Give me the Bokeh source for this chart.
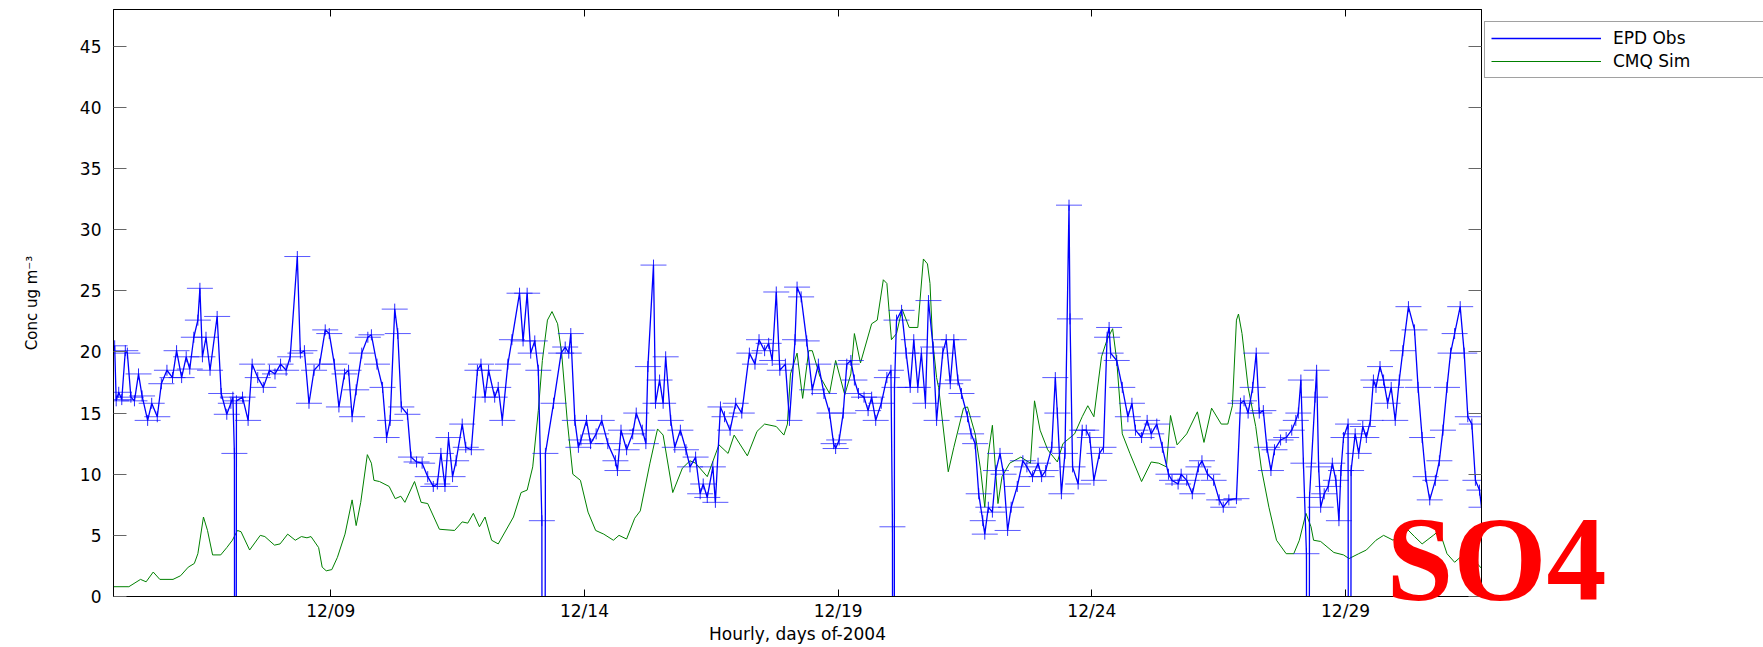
import math

from bokeh.plotting import figure
from bokeh.models import (ColumnDataSource, Range1d, FixedTicker, LinearAxis,
                          Legend, LegendItem, Label)
from bokeh.embed import file_html
from bokeh.resources import INLINE

# Flag used in the observation record for hours with no valid measurement
MISSING = -99.0

# Hourly SO4 observations (EPD), time as fractional day of December 2004
obs_day = [
    4.74, 4.77, 4.82, 4.88, 4.95, 4.99, 5.06, 5.13, 5.21, 5.28, 5.39, 5.47, 5.58, 5.66, 5.77, 5.88,
    5.96, 6.06, 6.15, 6.22, 6.30, 6.38, 6.42, 6.47, 6.54, 6.62, 6.76, 6.84, 6.95, 7.03, 7.07, 7.10,
    7.12, 7.14, 7.26, 7.37, 7.45, 7.56, 7.67, 7.79, 7.90, 8.01, 8.12, 8.20, 8.34, 8.40, 8.48, 8.57,
    8.67, 8.78, 8.89, 8.97, 9.07, 9.16, 9.27, 9.35, 9.42, 9.50, 9.61, 9.73, 9.80, 9.91, 10.02, 10.10,
    10.17, 10.26, 10.32, 10.39, 10.51, 10.58, 10.69, 10.80, 10.91, 11.02, 11.10, 11.17, 11.25, 11.32,
    11.40, 11.47, 11.59, 11.66, 11.77, 11.89, 11.96, 12.04, 12.11, 12.23, 12.30, 12.38, 12.49, 12.57,
    12.72, 12.79, 12.87, 12.94, 13.02, 13.09, 13.16, 13.19, 13.23, 13.39, 13.54, 13.62, 13.69, 13.73,
    13.81, 13.88, 13.93, 14.04, 14.12, 14.23, 14.34, 14.46, 14.61, 14.65, 14.72, 14.83, 14.95, 15.02,
    15.14, 15.21, 15.25, 15.36, 15.40, 15.48, 15.55, 15.60, 15.70, 15.78, 15.89, 16.00, 16.08, 16.19,
    16.28, 16.34, 16.42, 16.53, 16.58, 16.68, 16.76, 16.87, 16.98, 17.10, 17.25, 17.36, 17.44, 17.55,
    17.63, 17.70, 17.78, 17.85, 17.96, 18.04, 18.15, 18.19, 18.27, 18.38, 18.49, 18.61, 18.72, 18.83,
    18.91, 18.95, 19.02, 19.10, 19.17, 19.25, 19.32, 19.40, 19.51, 19.59, 19.66, 19.74, 19.85, 19.96,
    20.04, 20.07, 20.09, 20.11, 20.15, 20.25, 20.34, 20.42, 20.49, 20.57, 20.64, 20.72, 20.78, 20.87,
    20.94, 21.06, 21.13, 21.21, 21.28, 21.36, 21.43, 21.55, 21.62, 21.70, 21.77, 21.85, 21.89, 21.96,
    22.04, 22.11, 22.19, 22.26, 22.34, 22.41, 22.53, 22.64, 22.72, 22.83, 22.94, 23.01, 23.09, 23.21,
    23.28, 23.32, 23.40, 23.47, 23.55, 23.57, 23.62, 23.73, 23.81, 23.89, 23.96, 24.04, 24.15, 24.23,
    24.30, 24.34, 24.37, 24.49, 24.60, 24.71, 24.79, 24.86, 24.98, 25.09, 25.17, 25.28, 25.39, 25.51,
    25.58, 25.70, 25.76, 25.87, 25.98, 26.10, 26.17, 26.28, 26.40, 26.51, 26.59, 26.70, 26.85, 26.93,
    27.00, 27.08, 27.17, 27.24, 27.30, 27.38, 27.45, 27.53, 27.60, 27.72, 27.83, 27.94, 28.02, 28.07,
    28.12, 28.17, 28.23, 28.26, 28.29, 28.40, 28.43, 28.47, 28.51, 28.58, 28.66, 28.74, 28.81, 28.87,
    28.91, 28.96, 29.05, 29.08, 29.11, 29.19, 29.26, 29.34, 29.41, 29.49, 29.55, 29.60, 29.68, 29.75,
    29.83, 29.90, 29.98, 30.06, 30.13, 30.24, 30.36, 30.43, 30.51, 30.58, 30.66, 30.77, 30.85, 30.92,
    31.00, 31.07, 31.15, 31.26, 31.34, 31.41, 31.49, 31.56, 31.64, 31.68,
]
obs_conc = [
    20.5, 16.0, 16.7, 16.1, 20.1, 19.9, 16.3, 16.0, 18.2, 16.4, 14.4, 15.8, 14.7, 17.4, 18.5, 17.9,
    20.1, 17.9, 19.6, 18.6, 21.2, 22.6, 25.2, 19.6, 21.2, 18.5, 22.9, 16.6, 14.9, 15.8, 16.3, 11.7,
    MISSING, 16.0, 16.3, 14.4, 19.0, 17.9, 17.1, 18.5, 18.2, 19.0, 18.5, 19.6, 27.8, 19.9, 20.1, 15.8,
    18.5, 19.0, 21.8, 21.5, 19.0, 15.5, 18.2, 18.5, 14.7, 16.9, 19.9, 21.2, 21.4, 19.0, 17.1, 13.0,
    14.4, 23.5, 21.5, 15.5, 14.9, 11.4, 11.0, 10.9, 9.8, 9.0, 9.2, 11.7, 9.0, 13.0,
    9.8, 11.1, 14.1, 12.2, 12.0, 18.5, 19.0, 16.3, 18.5, 16.3, 17.1, 14.4, 19.0, 21.0,
    24.8, 20.9, 24.8, 19.9, 20.9, 18.5, 6.2, MISSING, 11.7, 15.8, 19.9, 20.4, 19.9, 21.5,
    14.4, 12.2, 12.8, 14.4, 12.5, 13.3, 14.4, 12.5, 11.1, 10.3, 13.6, 12.0, 13.3, 15.0,
    13.6, 12.5, 18.8, 27.1, 15.8, 17.7, 15.8, 19.6, 14.4, 12.2, 13.6, 12.0, 10.6, 11.4,
    8.4, 9.2, 8.1, 10.6, 7.7, 15.5, 14.7, 13.6, 15.8, 15.0, 19.9, 19.0, 21.0, 20.1,
    20.7, 19.3, 24.9, 18.5, 19.0, 14.4, 21.0, 25.3, 24.5, 20.9, 16.9, 19.0, 16.6, 15.0,
    12.5, 12.1, 12.8, 15.0, 19.0, 19.3, 17.7, 16.6, 16.3, 15.2, 16.3, 14.4, 15.8, 17.9,
    18.5, 5.7, MISSING, 17.1, 22.6, 23.4, 19.9, 17.1, 21.0, 17.1, 19.9, 15.8, 24.2, 20.4,
    14.4, 19.9, 21.0, 17.4, 21.0, 17.7, 16.6, 14.7, 13.3, 12.5, 8.4, 6.2, 5.1, 7.3,
    6.9, 10.3, 11.7, 10.0, 5.4, 7.3, 9.0, 11.1, 10.6, 9.8, 10.9, 9.8, 10.3, 12.2,
    17.9, 15.0, 8.4, 11.7, 32.0, 22.7, 10.6, 9.2, 13.6, 13.6, 13.0, 9.5, 11.7, 12.2,
    21.2, 22.0, 19.9, 19.3, 17.1, 14.7, 15.8, 13.6, 13.0, 14.4, 13.3, 14.1, 12.2, 10.0,
    9.5, 9.2, 10.0, 9.5, 8.4, 10.6, 11.1, 10.0, 9.5, 7.9, 7.3, 7.9, 8.0, 15.8,
    16.0, 15.0, 17.1, 19.9, 15.0, 15.2, 12.2, 10.3, 12.0, 12.8, 13.0, 13.6, 14.4, 15.0,
    17.7, 10.9, 3.5, MISSING, 8.1, 16.3, 18.5, 10.6, 7.3, 8.4, 9.0, 10.9, 9.5, 6.2,
    10.3, 13.0, 14.1, MISSING, 10.3, 13.3, 11.7, 13.9, 13.0, 14.4, 17.7, 17.1, 18.8, 17.7,
    15.8, 17.1, 14.4, 17.7, 20.1, 23.7, 21.8, 17.1, 13.0, 9.8, 7.9, 9.5, 11.1, 13.6,
    17.1, 19.9, 21.5, 23.7, 19.9, 14.7, 14.1, 9.5, 8.7, 7.3,
]

# Hourly CMAQ model output at the same site
sim_day = [
    4.72, 5.02, 5.25, 5.36, 5.50, 5.63, 5.89, 6.04, 6.19, 6.31, 6.38, 6.49, 6.57, 6.67, 6.83, 6.95,
    7.06, 7.16, 7.23, 7.40, 7.61, 7.70, 7.89, 8.00, 8.15, 8.30, 8.42, 8.53, 8.61, 8.76, 8.83, 8.91,
    9.02, 9.13, 9.28, 9.42, 9.50, 9.59, 9.72, 9.80, 9.85, 9.96, 10.15, 10.27, 10.38, 10.46, 10.65, 10.78,
    10.91, 11.14, 11.44, 11.59, 11.70, 11.81, 11.93, 12.04, 12.17, 12.30, 12.60, 12.75, 12.87, 12.98,
    13.09, 13.17, 13.27, 13.36, 13.47, 13.55, 13.66, 13.77, 13.92, 14.07, 14.22, 14.38, 14.57, 14.68,
    14.83, 14.99, 15.10, 15.29, 15.44, 15.55, 15.74, 15.93, 16.08, 16.19, 16.42, 16.65, 16.83, 16.95,
    17.21, 17.40, 17.55, 17.78, 17.93, 18.00, 18.06, 18.19, 18.30, 18.42, 18.49, 18.64, 18.83, 18.95,
    19.13, 19.25, 19.32, 19.44, 19.66, 19.77, 19.89, 19.96, 20.05, 20.15, 20.26, 20.40, 20.57, 20.68,
    20.76, 20.81, 20.86, 20.94, 20.98, 21.17, 21.28, 21.47, 21.55, 21.70, 21.81, 21.89, 21.96, 22.04,
    22.11, 22.15, 22.23, 22.38, 22.60, 22.79, 22.87, 22.98, 23.13, 23.32, 23.43, 23.66, 23.81, 23.92,
    24.04, 24.19, 24.30, 24.41, 24.49, 24.60, 24.75, 24.98, 25.17, 25.32, 25.47, 25.55, 25.68, 25.87,
    26.08, 26.21, 26.36, 26.55, 26.68, 26.77, 26.85, 26.89, 26.96, 27.08, 27.23, 27.34, 27.49, 27.64,
    27.83, 27.98, 28.09, 28.22, 28.32, 28.37, 28.51, 28.77, 28.96, 29.07, 29.26, 29.41, 29.60, 29.75,
    29.94, 30.17, 30.36, 30.51, 30.73, 30.85, 31.00, 31.15, 31.34, 31.53, 31.68,
]
sim_conc = [
    0.8, 0.8, 1.4, 1.2, 2.0, 1.4, 1.4, 1.7, 2.4, 2.7, 3.5, 6.5, 5.4, 3.4, 3.4, 4.0,
    4.6, 5.4, 5.3, 3.8, 5.0, 4.9, 4.2, 4.3, 5.1, 4.6, 4.9, 4.8, 4.9, 4.0, 2.4, 2.1,
    2.2, 3.2, 5.1, 7.9, 5.8, 7.7, 11.6, 10.9, 9.5, 9.4, 9.0, 8.0, 8.2, 7.7, 9.4, 7.7,
    7.6, 5.5, 5.4, 6.1, 6.0, 6.8, 5.7, 6.5, 4.6, 4.3, 6.5, 8.5, 8.7, 10.6,
    15.2, 19.3, 22.6, 23.3, 22.3, 19.9, 14.4, 10.0, 9.5, 6.9, 5.4, 5.1, 4.6, 5.0,
    4.7, 6.4, 7.0, 10.9, 13.7, 13.2, 8.5, 10.5, 11.1, 10.9, 9.8, 12.4, 11.7, 13.2,
    11.5, 13.5, 14.1, 13.9, 13.2, 14.1, 18.2, 19.9, 16.2, 20.1, 20.1, 18.0, 16.6, 19.3,
    16.5, 18.2, 21.5, 19.1, 22.3, 22.6, 25.9, 25.6, 21.0, 21.5, 23.5, 22.0, 22.0, 27.6,
    27.2, 25.6, 21.0, 17.9, 17.1, 10.2, 12.2, 15.4, 15.5, 13.3, 10.3, 7.3, 11.7, 14.0,
    9.8, 7.6, 9.8, 10.9, 11.4, 10.9, 16.0, 13.6, 12.0, 11.0, 12.5, 13.3, 14.7, 15.6,
    14.7, 19.6, 21.0, 21.9, 19.3, 13.3, 11.7, 9.4, 11.0, 10.9, 10.6, 14.8, 12.4, 13.3,
    15.1, 12.6, 15.4, 14.1, 14.1, 15.6, 22.6, 23.1, 21.5, 17.1, 13.9, 10.5, 7.3, 4.6,
    3.5, 3.5, 4.6, 6.8, 5.7, 4.6, 4.5, 3.6, 3.4, 3.1, 3.5, 3.8, 4.6, 5.0,
    4.6, 5.7, 4.9, 4.3, 5.0, 5.4, 3.5, 2.8, 3.5, 3.0, 2.3,
]

x_tick_days = [9, 14, 19, 24, 29]
x_tick_labels = ["12/09", "12/14", "12/19", "12/24", "12/29"]
y_ticks = [0, 5, 10, 15, 20, 25, 30, 35, 40, 45]
species = "SO4"

X_START, X_END = 4.717, 31.68
Y_MAX = 48
W, H = 1763, 647

FONT = "DejaVu Sans"
BLUE = "#0000ff"
GREEN = "#008000"

# ---------------------------------------------------------------- main chart
p = figure(width=W, height=H, output_backend="svg", toolbar_location=None,
           x_range=Range1d(X_START, X_END), y_range=Range1d(0, Y_MAX),
           min_border_left=113, min_border_right=282, min_border_top=9, min_border_bottom=51,
           background_fill_color="white", border_fill_color="white")
p.grid.visible = False
p.outline_line_color = "black"
p.outline_line_width = 1

xax = p.xaxis[0]
xax.ticker = FixedTicker(ticks=x_tick_days)
xax.major_label_overrides = {d: lab for d, lab in zip(x_tick_days, x_tick_labels)}
xax.axis_label = "Hourly, days of-2004"
yax = p.yaxis[0]
yax.ticker = FixedTicker(ticks=y_ticks)
yax.axis_label = "Conc ug m\u207b\u00b3"

for ax, tick_len, tick_col in ((xax, 7, "black"), (yax, 13, "#666666")):
    ax.axis_line_color = "black"
    ax.major_tick_in = tick_len
    ax.major_tick_out = 0
    ax.major_tick_line_color = tick_col
    ax.minor_tick_line_color = None
    ax.major_label_text_font = FONT
    ax.major_label_text_font_size = "17px"
    ax.major_label_text_color = "black"
    ax.axis_label_text_font = FONT
    ax.axis_label_text_font_style = "normal"
    ax.axis_label_text_color = "black"

xax.major_label_standoff = 4
xax.axis_label_standoff = 0
xax.axis_label_text_font_size = "17px"
yax.major_label_standoff = 12
yax.axis_label_standoff = 36
yax.axis_label_text_font_size = "15px"

# Mirrored tick marks on the top and right sides of the box (ticks only, no labels)
top_ax = LinearAxis(ticker=FixedTicker(ticks=x_tick_days), major_tick_in=7, major_tick_out=0,
                    minor_tick_line_color=None, major_label_text_font_size="1px",
                    major_label_text_color=None, major_label_standoff=0,
                    axis_line_color="black", major_tick_line_color="black")
right_ax = LinearAxis(ticker=FixedTicker(ticks=y_ticks), major_tick_in=13, major_tick_out=0,
                      minor_tick_line_color=None, major_label_text_font_size="1px",
                      major_label_text_color=None, major_label_standoff=0,
                      axis_line_color="black", major_tick_line_color="#666666")
p.add_layout(top_ax, "above")
p.add_layout(right_ax, "right")

obs_src = ColumnDataSource(data=dict(day=obs_day, conc=obs_conc))
sim_src = ColumnDataSource(data=dict(day=sim_day, conc=sim_conc))

line_style = dict(line_color=BLUE, line_width=1.3)
hbar_style = dict(marker="dash", size=26, line_color=BLUE, line_alpha=0.65, line_width=1)
vbar_style = dict(marker="dash", size=11, angle=math.pi / 2, line_color=BLUE,
                  line_alpha=0.85, line_width=1)
sim_style = dict(line_color=GREEN, line_width=1)

p.line("day", "conc", source=sim_src, **sim_style)
p.line("day", "conc", source=obs_src, **line_style)
# '+' markers: a wide horizontal bar and a short vertical bar at each observation
p.scatter("day", "conc", source=obs_src, **hbar_style)
p.scatter("day", "conc", source=obs_src, **vbar_style)

# ------------------------------------------------ overlay for legend and tag
# A transparent full-canvas layer drawn on top of the chart (separate root,
# pulled up by a negative top margin), in pixel coordinates with y downwards,
# so the legend and the species tag can cross the edge of the axes box.
q = figure(width=W, height=H, output_backend="svg", toolbar_location=None,
           x_range=Range1d(0, W), y_range=Range1d(H, 0),
           x_axis_location=None, y_axis_location=None, min_border=0,
           background_fill_alpha=0, border_fill_alpha=0, outline_line_color=None,
           margin=(-H, 0, 0, 0))
q.grid.visible = False

# legend swatches: same styles as the chart series, anchored off-canvas
off = ColumnDataSource(data=dict(x=[-50.0], y=[-50.0]))
k_line = q.line("x", "y", source=off, **line_style)
k_h = q.scatter("x", "y", source=off, **hbar_style)
k_v = q.scatter("x", "y", source=off, **vbar_style)
k_sim = q.line("x", "y", source=off, **sim_style)

legend = Legend(items=[LegendItem(label="EPD Obs", renderers=[k_line, k_h, k_v]),
                       LegendItem(label="CMQ Sim", renderers=[k_sim])],
                location=(1484, H - 78), orientation="vertical",
                glyph_width=110, glyph_height=20, label_height=20, label_width=160, spacing=3,
                padding=6, margin=0, label_standoff=12,
                border_line_color="#444444", border_line_width=1,
                background_fill_color="white", background_fill_alpha=1,
                label_text_font=FONT, label_text_font_size="17px", label_text_color="black")
q.add_layout(legend)

q.add_layout(Label(x=1386, y=559, text=species, text_font="Liberation Serif",
                   text_font_style="bold", text_font_size="120px", text_color="#ff0000",
                   text_align="left", text_baseline="middle"))

open("out.html", "w").write(file_html([p, q], INLINE))
